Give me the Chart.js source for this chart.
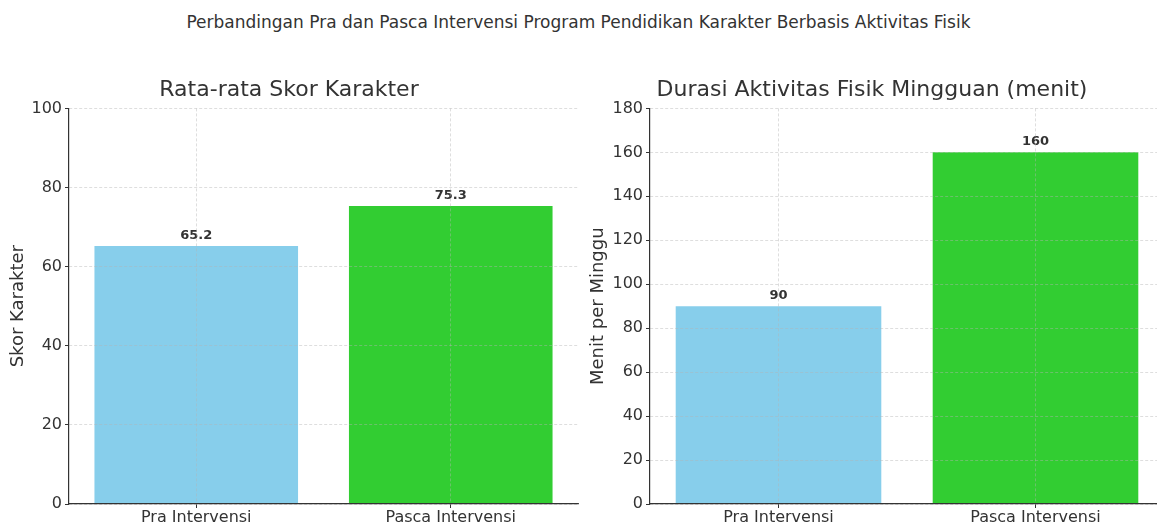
<!DOCTYPE html>
<html>
<head>
<meta charset="utf-8">
<script src="https://cdn.jsdelivr.net/npm/chart.js@4.4.1/dist/chart.umd.min.js"></script>
<style>
  html, body { margin: 0; padding: 0; background: #fff; overflow: hidden; }
  body { width: 1157px; height: 527px; position: relative; }
  #judul {
    position: absolute; left: 0; width: 1157px; top: 12px; text-align: center;
    font: 17px 'DejaVu Sans', sans-serif; color: #333; line-height: 20px;
  }
  #wrapKiri { position: absolute; left: 0; top: 0; width: 580px; height: 527px; }
  #wrapKanan { position: absolute; left: 580px; top: 0; width: 584px; height: 527px; }
</style>
</head>
<body>
<div id="judul">Perbandingan Pra dan Pasca Intervensi Program Pendidikan Karakter Berbasis Aktivitas Fisik</div>
<div id="wrapKiri"><canvas id="chartKiri" width="580" height="527"></canvas></div>
<div id="wrapKanan"><canvas id="chartKanan" width="584" height="527"></canvas></div>
<script>
// data
var kategori = ['Pra Intervensi', 'Pasca Intervensi'];
var skorKarakter = [65.2, 75.3];
var durasiMenit = [90, 160];
var warnaBar = ['#87CEEB', '#32CD32'];

var fontKu = "'DejaVu Sans', sans-serif";
var teks = '#333333';
var warnaGrid = 'rgba(180,180,180,0.55)';

// label angka di atas batang
var labelNilai = {
    id: 'labelNilai',
    afterDatasetsDraw: function (chart) {
        var ctx = chart.ctx;
        var meta = chart.getDatasetMeta(0);
        var data = chart.data.datasets[0].data;
        ctx.save();
        ctx.font = 'bold 13px ' + fontKu;
        ctx.fillStyle = teks;
        ctx.textAlign = 'center';
        ctx.textBaseline = 'alphabetic';
        meta.data.forEach(function (bar, i) {
            ctx.fillText(String(data[i]), bar.x, bar.y - 7);
        });
        ctx.restore();
    }
};

function buatChart(idCanvas, nilai, judul, labelY, maxY, lebarY, padKanan) {
    var ctx = document.getElementById(idCanvas).getContext('2d');
    return new Chart(ctx, {
        type: 'bar',
        data: {
            labels: kategori,
            datasets: [{
                data: nilai,
                backgroundColor: warnaBar,
                borderWidth: 0,
                categoryPercentage: 0.8,
                barPercentage: 1.0
            }]
        },
        options: {
            responsive: false,
            animation: false,
            layout: { padding: { top: 77, left: 0, right: padKanan, bottom: 0 } },
            plugins: {
                legend: { display: false },
                tooltip: { enabled: false },
                title: {
                    display: true,
                    text: judul,
                    color: teks,
                    font: { family: fontKu, size: 22, weight: 'normal' },
                    padding: { top: 0, bottom: 5 }
                }
            },
            scales: {
                x: {
                    offset: true,
                    afterFit: function (scale) { scale.height = 23; },
                    grid: {
                        offset: false,
                        z: 1,
                        color: warnaGrid,
                        lineWidth: 0.8,
                        tickColor: teks,
                        tickLength: 4,
                        tickWidth: 1,
                        tickBorderDash: []
                    },
                    border: { display: true, color: teks, width: 1.2, dash: [3, 2], z: 2 },
                    ticks: { color: teks, padding: 0, font: { family: fontKu, size: 16 } }
                },
                y: {
                    min: 0,
                    max: maxY,
                    afterFit: function (scale) { scale.width = lebarY; },
                    grid: {
                        z: 1,
                        color: warnaGrid,
                        lineWidth: 0.8,
                        tickColor: teks,
                        tickLength: 4,
                        tickWidth: 1,
                        tickBorderDash: []
                    },
                    border: { display: true, color: teks, width: 1.2, dash: [3, 2], z: 2 },
                    ticks: { stepSize: 20, color: teks, padding: 3, font: { family: fontKu, size: 16 } },
                    title: {
                        display: true,
                        text: labelY,
                        color: teks,
                        font: { family: fontKu, size: 18 },
                        padding: { top: 8, bottom: 0 }
                    }
                }
            }
        },
        plugins: [labelNilai]
    });
}

buatChart('chartKiri', skorKarakter, 'Rata-rata Skor Karakter', 'Skor Karakter', 100, 69, 2);
buatChart('chartKanan', durasiMenit, 'Durasi Aktivitas Fisik Mingguan (menit)', 'Menit per Minggu', 180, 70, 0);
</script>
</body>
</html>
